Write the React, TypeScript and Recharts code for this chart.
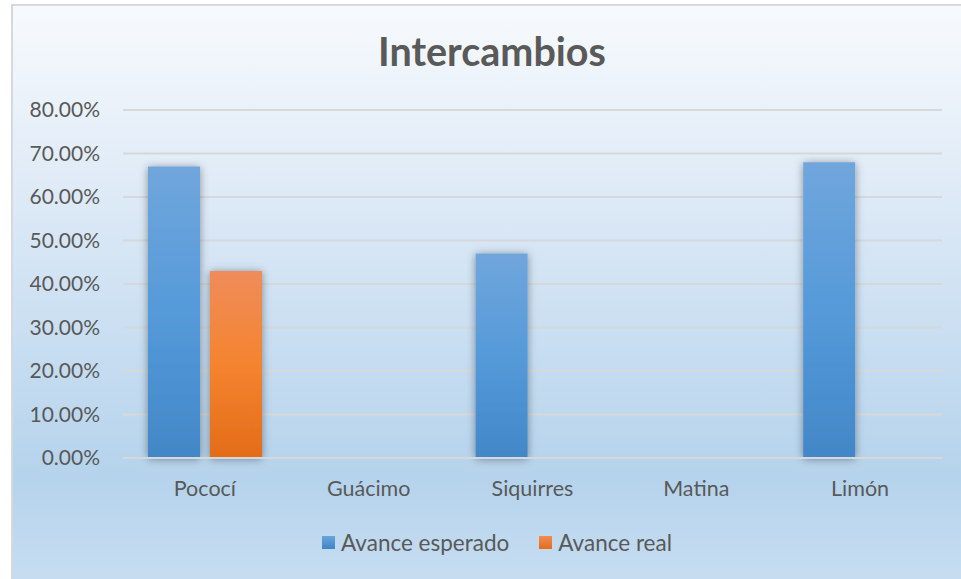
import { BarChart, Bar, XAxis, YAxis, CartesianGrid } from "recharts";

const municipios = ["Pococí", "Guácimo", "Siquirres", "Matina", "Limón"];
const avanceEsperado = [0.67, 0, 0.47, 0, 0.68];
const avanceReal = [0.43, 0, 0, 0, 0];
const yTicks = [0, 0.1, 0.2, 0.3, 0.4, 0.5, 0.6, 0.7, 0.8];

const data = municipios.map((m, i) => ({
  name: m,
  esperado: avanceEsperado[i],
  real: avanceReal[i],
}));

const FONT = "Lato, 'Open Sans', sans-serif";
const TEXT = "#595959";

export default function App() {
  return (
    <div style={{ position: "absolute", left: 0, top: 0, width: 961, height: 579, background: "#fff", overflow: "hidden" }}>
      <div
        style={{
          position: "absolute",
          left: 11,
          top: 4,
          width: 952,
          height: 577,
          boxSizing: "border-box",
          border: "2px solid #d6d9dc",
          background: "linear-gradient(180deg, #f7fafd 0%, #dce9f6 35%, #b5d3ec 82%, #c6ddf1 100%)",
        }}
      />
      <div
        style={{
          position: "absolute",
          left: 11,
          top: 27,
          width: 962,
          textAlign: "center",
          fontFamily: FONT,
          fontWeight: 700,
          fontSize: 39.5,
          lineHeight: "48px",
          color: TEXT,
        }}
      >
        Intercambios
      </div>
      <div style={{ position: "absolute", left: 11, top: 4 }}>
        <BarChart
          width={950}
          height={575}
          data={data}
          margin={{ top: 106, right: 19, left: 0, bottom: 91 }}
          barCategoryGap={25}
          barGap={10}
        >
          <defs>
            <linearGradient id="gBlue" x1="0" y1="0" x2="0" y2="1">
              <stop offset="0%" stopColor="#70a6dc" />
              <stop offset="50%" stopColor="#559ad9" />
              <stop offset="100%" stopColor="#4287c7" />
            </linearGradient>
            <linearGradient id="gOrange" x1="0" y1="0" x2="0" y2="1">
              <stop offset="0%" stopColor="#ef8c5b" />
              <stop offset="50%" stopColor="#f5842f" />
              <stop offset="100%" stopColor="#e36c18" />
            </linearGradient>
            <filter id="shadow" x="-40%" y="-10%" width="180%" height="125%">
              <feDropShadow dx="0" dy="1" stdDeviation="4" floodColor="#000" floodOpacity="0.4" />
            </filter>
          </defs>
          <CartesianGrid vertical={false} stroke="#d6d8da" strokeWidth={2} />
          <XAxis
            dataKey="name"
            height={30}
            axisLine={{ stroke: "#d6d8da", strokeWidth: 2 }}
            tickLine={false}
            tickSize={0}
            tickMargin={23}
            tick={{ fill: TEXT, fontSize: 21.5, fontFamily: FONT }}
          />
          <YAxis
            width={112}
            domain={[0, 0.8]}
            ticks={yTicks}
            axisLine={false}
            tickLine={false}
            tickSize={0}
            tickMargin={23}
            tick={{ fill: TEXT, fontSize: 21, fontFamily: FONT }}
            tickFormatter={(v: number) => `${(v * 100).toFixed(2)}%`}
          />
          <Bar dataKey="esperado" name="Avance esperado" fill="url(#gBlue)" filter="url(#shadow)" isAnimationActive={false} />
          <Bar dataKey="real" name="Avance real" fill="url(#gOrange)" filter="url(#shadow)" isAnimationActive={false} />
        </BarChart>
      </div>
      <div
        style={{
          position: "absolute",
          left: 322,
          top: 528,
          height: 28,
          display: "flex",
          alignItems: "center",
          fontFamily: FONT,
          fontSize: 22.5,
          color: TEXT,
          whiteSpace: "nowrap",
        }}
      >
        <span style={{ width: 13, height: 13, background: "linear-gradient(#6aa3dc, #3f86c8)", marginRight: 6 }} />
        <span style={{ marginRight: 30 }}>Avance esperado</span>
        <span style={{ width: 13, height: 13, background: "linear-gradient(#f08c55, #e46c1a)", marginRight: 6 }} />
        <span>Avance real</span>
      </div>
    </div>
  );
}
